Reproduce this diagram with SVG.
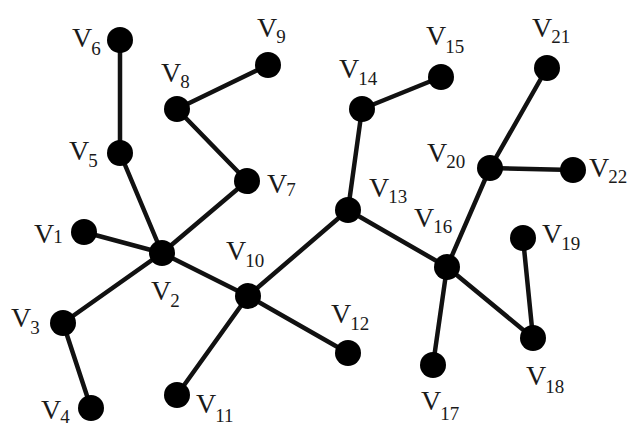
<svg xmlns="http://www.w3.org/2000/svg" width="627" height="430" viewBox="0 0 627 430">
<style>
.e{stroke:#111;stroke-width:4.5;stroke-linecap:round}
.n{fill:#000}
text{font-family:"Liberation Serif","Times New Roman",serif;font-size:28px;fill:#1a1a1a}
.s{font-size:19px}
</style>
<rect width="627" height="430" fill="#fff"/>
<g id="connectors">
<line class="e" x1="120" y1="40" x2="120" y2="153"/>
<line class="e" x1="120" y1="153" x2="162" y2="253"/>
<line class="e" x1="177" y1="109" x2="268" y2="65"/>
<line class="e" x1="177" y1="109" x2="247" y2="181"/>
<line class="e" x1="247" y1="181" x2="162" y2="253"/>
<line class="e" x1="84" y1="232" x2="162" y2="253"/>
<line class="e" x1="162" y1="253" x2="63" y2="323"/>
<line class="e" x1="63" y1="323" x2="91" y2="408"/>
<line class="e" x1="162" y1="253" x2="248" y2="296"/>
<line class="e" x1="248" y1="296" x2="177" y2="395"/>
<line class="e" x1="248" y1="296" x2="348" y2="353"/>
<line class="e" x1="248" y1="296" x2="348" y2="210"/>
<line class="e" x1="348" y1="210" x2="362" y2="109"/>
<line class="e" x1="362" y1="109" x2="441" y2="77"/>
<line class="e" x1="348" y1="210" x2="447" y2="267"/>
<line class="e" x1="447" y1="267" x2="490" y2="168"/>
<line class="e" x1="490" y1="168" x2="547" y2="68"/>
<line class="e" x1="490" y1="168" x2="573" y2="170"/>
<line class="e" x1="447" y1="267" x2="433" y2="365"/>
<line class="e" x1="447" y1="267" x2="533" y2="338"/>
<line class="e" x1="533" y1="338" x2="523" y2="238"/>
</g>
<g id="v1"><circle class="n" cx="84" cy="232" r="13"/><text x="34" y="243">V<tspan class="s" dx="-1" dy="0">1</tspan></text></g>
<g id="v2"><circle class="n" cx="162" cy="253" r="13"/><text x="151" y="300">V<tspan class="s" dx="-1" dy="7">2</tspan></text></g>
<g id="v3"><circle class="n" cx="63" cy="323" r="13"/><text x="11" y="327">V<tspan class="s" dx="-1" dy="7">3</tspan></text></g>
<g id="v4"><circle class="n" cx="91" cy="408" r="13"/><text x="41" y="419">V<tspan class="s" dx="-1" dy="4">4</tspan></text></g>
<g id="v5"><circle class="n" cx="120" cy="153" r="13"/><text x="69" y="160">V<tspan class="s" dx="-1" dy="7">5</tspan></text></g>
<g id="v6"><circle class="n" cx="120" cy="40" r="13"/><text x="72" y="47">V<tspan class="s" dx="-1" dy="8">6</tspan></text></g>
<g id="v7"><circle class="n" cx="247" cy="181" r="13"/><text x="267" y="193">V<tspan class="s" dx="-1" dy="3">7</tspan></text></g>
<g id="v8"><circle class="n" cx="177" cy="109" r="13"/><text x="161" y="82">V<tspan class="s" dx="-1" dy="6">8</tspan></text></g>
<g id="v9"><circle class="n" cx="268" cy="65" r="13"/><text x="257" y="37">V<tspan class="s" dx="-1" dy="6">9</tspan></text></g>
<g id="v10"><circle class="n" cx="248" cy="296" r="13"/><text x="226" y="260">V<tspan class="s" dx="-1" dy="7">10</tspan></text></g>
<g id="v11"><circle class="n" cx="177" cy="395" r="13"/><text x="196" y="413">V<tspan class="s" dx="-1" dy="9">11</tspan></text></g>
<g id="v12"><circle class="n" cx="348" cy="353" r="13"/><text x="331" y="323">V<tspan class="s" dx="-1" dy="7">12</tspan></text></g>
<g id="v13"><circle class="n" cx="348" cy="210" r="13"/><text x="369" y="197">V<tspan class="s" dx="-1" dy="6">13</tspan></text></g>
<g id="v14"><circle class="n" cx="362" cy="109" r="13"/><text x="339" y="78">V<tspan class="s" dx="-1" dy="7">14</tspan></text></g>
<g id="v15"><circle class="n" cx="441" cy="77" r="13"/><text x="426" y="45">V<tspan class="s" dx="-1" dy="8">15</tspan></text></g>
<g id="v16"><circle class="n" cx="447" cy="267" r="13"/><text x="414" y="227">V<tspan class="s" dx="-1" dy="6">16</tspan></text></g>
<g id="v17"><circle class="n" cx="433" cy="365" r="13"/><text x="421" y="410">V<tspan class="s" dx="-1" dy="10">17</tspan></text></g>
<g id="v18"><circle class="n" cx="533" cy="338" r="13"/><text x="526" y="385">V<tspan class="s" dx="-1" dy="8">18</tspan></text></g>
<g id="v19"><circle class="n" cx="523" cy="238" r="13"/><text x="542" y="243">V<tspan class="s" dx="-1" dy="7">19</tspan></text></g>
<g id="v20"><circle class="n" cx="490" cy="168" r="13"/><text x="427" y="162">V<tspan class="s" dx="-1" dy="6">20</tspan></text></g>
<g id="v21"><circle class="n" cx="547" cy="68" r="13"/><text x="532" y="37">V<tspan class="s" dx="-1" dy="6">21</tspan></text></g>
<g id="v22"><circle class="n" cx="573" cy="170" r="13"/><text x="589" y="177">V<tspan class="s" dx="-1" dy="6">22</tspan></text></g>
</svg>
